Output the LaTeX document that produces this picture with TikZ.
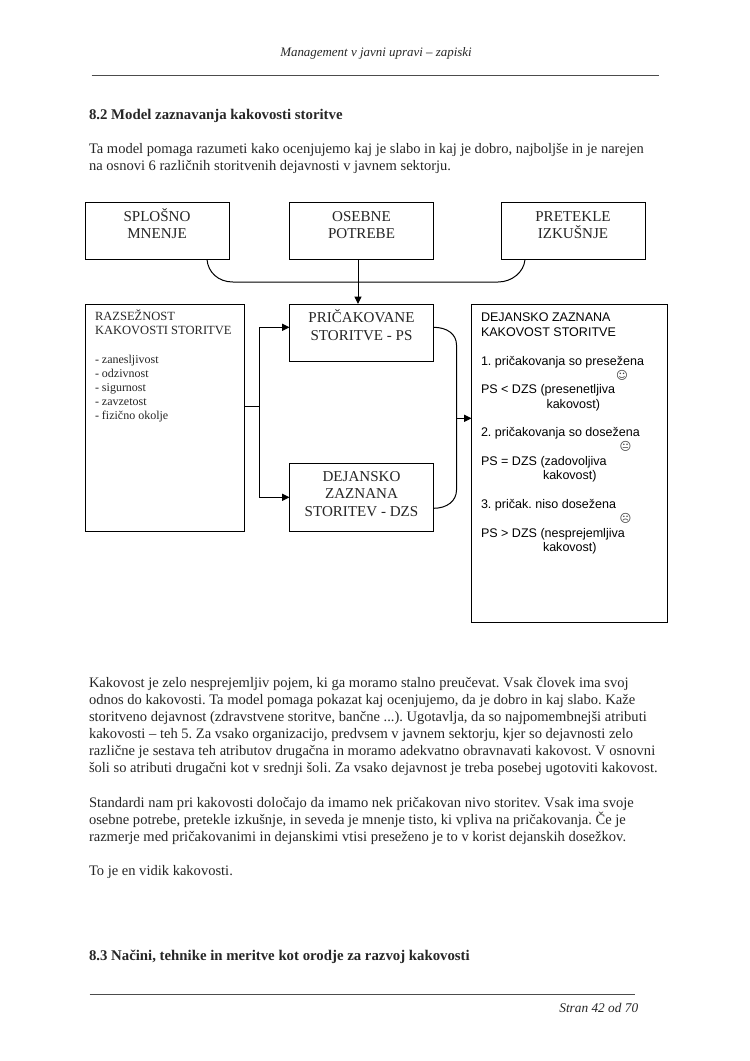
\documentclass[tikz,border=0pt]{standalone}
\usepackage{fontspec}
\setmainfont{Liberation Serif}
\newfontfamily\arialf{Liberation Sans}
\newfontfamily\symf{DejaVu Sans}
\usetikzlibrary{arrows.meta}
\frenchspacing
\newcommand{\bodyf}{\fontsize{10.9}{12}\selectfont}
\newcommand{\headf}{\fontsize{11.1}{12}\selectfont\bfseries}
\newcommand{\boxf}{\fontsize{11.3}{12.5}\selectfont}
\newcommand{\smallf}{\fontsize{9}{10}\selectfont}
\newcommand{\capsf}{\fontsize{9.4}{10}\selectfont}
\newcommand{\arf}{\arialf\fontsize{9.4}{11}\selectfont}
\tikzset{
  x=0.75pt,y=-0.75pt,
  boxs/.style={draw=black,line width=0.75pt,fill=white,anchor=north west,inner sep=0pt,outer sep=0pt},
  conn/.style={draw=black,line width=0.75pt},
  arrow/.style={conn,-{Triangle[length=5.5pt,width=5.25pt]}},
  txt/.style={anchor=base west,inner sep=0pt,outer sep=0pt,text=black!85},
  atxt/.style={anchor=base west,inner sep=0pt,outer sep=0pt,text=black,font=\arf},
  ctr/.style={anchor=base,inner sep=0pt,outer sep=0pt,text=black!85},
  rule/.style={draw=black!70,line width=0.6pt},
  smile/.style={font=\symf\fontsize{8.5}{10}\selectfont,inner sep=0pt,text=black!75},
}
\begin{document}
\begin{tikzpicture}
\useasboundingbox (0,0) rectangle (750,1061);
\fill[white] (0,0) rectangle (750,1061);
% header
\node[ctr,font=\fontsize{9.7}{11}\selectfont\itshape] (hd) at (376,56) {Management v javni upravi – zapiski};
\coordinate (hl) at (91.5,75); \coordinate (hr) at (658.5,75);
\draw[rule] (hl) -- (hr);
\node[txt,font=\headf] (h1) at (89,119) {8.2 Model zaznavanja kakovosti storitve};
\node[txt,font=\bodyf] (p1) at (89,153) {Ta model pomaga razumeti kako ocenjujemo kaj je slabo in kaj je dobro, najboljše in je narejen};
\node[txt,font=\bodyf] (p2) at (89,170) {na osnovi 6 različnih storitvenih dejavnosti v javnem sektorju.};
% boxes
\node[boxs,minimum width=108pt,minimum height=42.75pt] (a) at (85,202.5) {};
\node[boxs,minimum width=108pt,minimum height=42.75pt] (b) at (289.5,202.5) {};
\node[boxs,minimum width=108pt,minimum height=42.75pt] (c) at (501,202.5) {};
\node[boxs,minimum width=119.25pt,minimum height=170.25pt] (d) at (85,304) {};
\node[boxs,minimum width=108pt,minimum height=42.75pt] (e) at (289.5,304) {};
\node[boxs,minimum width=108pt,minimum height=51pt] (f) at (289.5,463) {};
\node[boxs,minimum width=147pt,minimum height=238.5pt] (g) at (471.5,304) {};
% box texts
\node[ctr,font=\boxf] (at1) at (157,221) {SPLOŠNO};
\node[ctr,font=\boxf] (at2) at (157,238) {MNENJE};
\node[ctr,font=\boxf] (bt1) at (361.5,221) {OSEBNE};
\node[ctr,font=\boxf] (bt2) at (361.5,238) {POTREBE};
\node[ctr,font=\boxf] (ct1) at (573,221) {PRETEKLE};
\node[ctr,font=\boxf] (ct2) at (573,238) {IZKUŠNJE};
\node[ctr,font=\boxf] (et1) at (361.5,322.5) {PRIČAKOVANE};
\node[ctr,font=\boxf] (et2) at (361.5,340) {STORITVE - PS};
\node[ctr,font=\boxf] (ft1) at (361.5,481.5) {DEJANSKO};
\node[ctr,font=\boxf] (ft2) at (361.5,498.5) {ZAZNANA};
\node[ctr,font=\boxf] (ft3) at (361.5,516) {STORITEV - DZS};
\node[txt,font=\capsf] (d1) at (95,320) {RAZSEŽNOST};
\node[txt,font=\capsf] (d2) at (95,334) {KAKOVOSTI STORITVE};
\node[txt,font=\smallf] (d3) at (95,363) {- zanesljivost};
\node[txt,font=\smallf] (d4) at (95,377) {- odzivnost};
\node[txt,font=\smallf] (d5) at (95,391) {- sigurnost};
\node[txt,font=\smallf] (d6) at (95,405) {- zavzetost};
\node[txt,font=\smallf] (d7) at (95,419) {- fizično okolje};
\node[atxt] (g1) at (481,321) {DEJANSKO ZAZNANA};
\node[atxt] (g2) at (481,336) {KAKOVOST STORITVE};
\node[atxt] (g3) at (481,365) {1. pričakovanja so presežena};
\node[smile] (s1) at (622,375) {☺};
\node[atxt] (g4) at (481,393) {PS < DZS (presenetljiva};
\node[atxt] (g5) at (546.5,408) {kakovost)};
\node[atxt] (g6) at (481,436) {2. pričakovanja so dosežena};
\node[smile] (s2) at (625.5,446.5) {😐};
\node[atxt] (g7) at (481,465) {PS = DZS (zadovoljiva};
\node[atxt] (g8) at (543,479) {kakovost)};
\node[atxt] (g9) at (481,508) {3. pričak. niso dosežena};
\node[smile] (s3) at (625.5,518) {☹};
\node[atxt] (g10) at (481,537) {PS > DZS (nesprejemljiva};
\node[atxt] (g11) at (543,551) {kakovost)};
% connectors
\coordinate (aout) at (207,259.5);
\coordinate (cout) at (525,259.5);
\coordinate (jn) at (358,282);
\draw[conn] (aout) .. controls (208,272) and (218,282) .. (233,282) -- (jn) -- (498,282) .. controls (512,282) and (524,272) .. (cout);
\draw[arrow] (b.south -| jn) -- (e.north -| jn);
\coordinate (dout) at (244,406);
\coordinate (split) at (259.5,406);
\coordinate (et) at (289.5,327.3);
\coordinate (ft) at (289.5,497.3);
\draw[conn] (dout) -- (split);
\draw[arrow] (split) |- (et);
\draw[arrow] (split) |- (ft);
\coordinate (e1) at (433.5,327.3);
\coordinate (f1) at (433.5,508.3);
\coordinate (m) at (456.5,418.3);
\draw[conn] (e1) .. controls (447,327.3) and (456.5,334) .. (456.5,345) -- (m) -- (456.5,490) .. controls (456.5,501) and (447,508.3) .. (f1);
\draw[arrow] (m) -- (g.west |- m);
% paragraphs
\node[txt,font=\bodyf] (q1) at (89,687) {Kakovost je zelo nesprejemljiv pojem, ki ga moramo stalno preučevat. Vsak človek ima svoj};
\node[txt,font=\bodyf] (q2) at (89,704) {odnos do kakovosti. Ta model pomaga pokazat kaj ocenjujemo, da je dobro in kaj slabo. Kaže};
\node[txt,font=\bodyf] (q3) at (89,721) {storitveno dejavnost (zdravstvene storitve, bančne ...). Ugotavlja, da so najpomembnejši atributi};
\node[txt,font=\bodyf] (q4) at (89,738) {kakovosti – teh 5. Za vsako organizacijo, predvsem v javnem sektorju, kjer so dejavnosti zelo};
\node[txt,font=\bodyf] (q5) at (89,755) {različne je sestava teh atributov drugačna in moramo adekvatno obravnavati kakovost. V osnovni};
\node[txt,font=\bodyf] (q6) at (89,772) {šoli so atributi drugačni kot v srednji šoli. Za vsako dejavnost je treba posebej ugotoviti kakovost.};
\node[txt,font=\bodyf] (r1) at (89,807) {Standardi nam pri kakovosti določajo da imamo nek pričakovan nivo storitev. Vsak ima svoje};
\node[txt,font=\bodyf] (r2) at (89,824) {osebne potrebe, pretekle izkušnje, in seveda je mnenje tisto, ki vpliva na pričakovanja. Če je};
\node[txt,font=\bodyf] (r3) at (89,841) {razmerje med pričakovanimi in dejanskimi vtisi preseženo je to v korist dejanskih dosežkov.};
\node[txt,font=\bodyf] (s) at (89,875) {To je en vidik kakovosti.};
\node[txt,font=\headf] (h2) at (89,960) {8.3 Načini, tehnike in meritve kot orodje za razvoj kakovosti};
\coordinate (fl) at (89.5,994); \coordinate (fr) at (635,994);
\draw[rule] (fl) -- (fr);
\node[anchor=base east,inner sep=0pt,text=black!85,font=\fontsize{10}{11}\selectfont\itshape] (pg) at (638.5,1012) {Stran 42 od 70};
\end{tikzpicture}
\end{document}
